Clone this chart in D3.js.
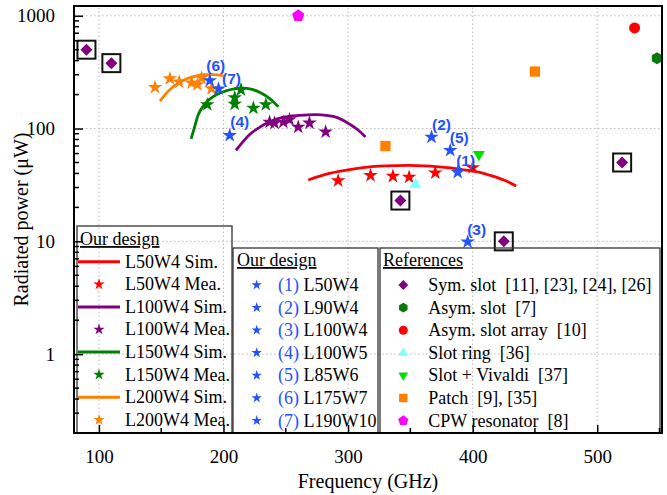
<!DOCTYPE html>
<html>
<head>
<meta charset="utf-8">
<script src="https://cdn.jsdelivr.net/npm/d3@7"></script>
<style>
  body { margin: 0; background: #fff; }
  svg text { font-family: "Liberation Serif", "Times New Roman", serif; white-space: pre; }
</style>
</head>
<body>
<div id="chart"></div>
<script>
// ---- data ----
var freqTicks = [100, 200, 300, 400, 500];
var powerTicks = [1, 10, 100, 1000];

// simulated curves (GHz, uW)
var l50Sim = [[268,35],[285,40],[300,43],[312,45],[325,46.5],[340,47],[355,47],[366,46.5],[380,45],[393,43],[405,41],[414,38.5],[425,35],[435,31]];
var l100Sim = [[210,64],[221,88.5],[228,101],[235,112],[248,126],[261,131],[275,133],[288,128],[295,120],[302,108],[308,97],[314,84]];
var l150Sim = [[174,81],[177,105],[180,135],[184,160],[189,182],[195,201],[202,216],[210,226],[217,228],[223,222],[229,210],[235,192],[240,173],[244,156]];
var l200Sim = [[149,175],[154,205],[160,237],[165,258],[170,275],[177,290],[184,300],[192,300],[200,294]];

// measured points
var l50Mea = [[292,34.5],[318,38.4],[336,37.8],[349,37.1],[370,40.5],[400,45]];
var l100Mea = [[237,114],[241,112],[248,114],[253,120],[260,103],[269,112],[282,93.5]];
var l150Mea = [[187,163],[209,188],[209,165],[214,221],[224,152],[234,163]];
var l200Mea = [[145,232],[157,277],[164.5,259],[174.4,254],[179,245],[182.4,281],[190.4,226]];

var seriesNames = ["L50W4", "L100W4", "L150W4", "L200W4"];
var seriesSim = [l50Sim, l100Sim, l150Sim, l200Sim];
var seriesMea = [l50Mea, l100Mea, l150Mea, l200Mea];

// numbered designs
var numLabels = ["(1)", "(2)", "(3)", "(4)", "(5)", "(6)", "(7)"];
var numNames = ["L50W4", "L90W4", "L100W4", "L100W5", "L85W6", "L175W7", "L190W10"];
var numPoints = [[388,41],[367,84],[396,9.9],[205,87],[382,64],[189,266],[196,225]];

// references
var refNames = ["Sym. slot  [11], [23], [24], [26]", "Asym. slot  [7]", "Asym. slot array  [10]",
                "Slot ring  [36]", "Slot + Vivaldi  [37]", "Patch  [9], [35]", "CPW resonator  [8]"];
var symSlot = [[90,500],[110,380],[342,23],[425,10],[520,50]];
var asymSlot = [[548,420]];
var asymArray = [[530,780]];
var slotRing = [[354,32]];
var slotVivaldi = [[405,59]];
var patch = [[330,70],[450,320]];
var cpwRes = [[260,1000]];
var refData = [symSlot, asymSlot, asymArray, slotRing, slotVivaldi, patch, cpwRes];

// ---- styles ----
var seriesColors = ["#ff0000", "#800080", "#008000", "#ff8000"];
var blue = "#2452ff";
var refColors = ["#800080", "#087a08", "#ff0000", "#80ffff", "#00e000", "#ff8000", "#ff00ff"];

var width = 667, height = 495;
var margin = {top: 6, left: 74, right: 5, bottom: 62};

var svg = d3.select("#chart").append("svg")
    .attr("width", width)
    .attr("height", height);

var xScale = d3.scaleLinear()
    .domain([80, 552])
    .range([margin.left, width - margin.right]);

var yScale = d3.scaleLog()
    .domain([0.2, 1220])
    .range([height - margin.bottom, margin.top]);

var x0 = margin.left, x1 = width - margin.right;
var y0 = height - margin.bottom, y1 = margin.top;

// grid
svg.append("g").selectAll("line.gx")
    .data(freqTicks).enter().append("line")
    .attr("x1", function(d) { return xScale(d); })
    .attr("x2", function(d) { return xScale(d); })
    .attr("y1", y0).attr("y2", y1)
    .attr("stroke", "#bbb").attr("stroke-width", 1).attr("stroke-dasharray", "1.5,2.5");
svg.append("g").selectAll("line.gy")
    .data(powerTicks).enter().append("line")
    .attr("y1", function(d) { return yScale(d); })
    .attr("y2", function(d) { return yScale(d); })
    .attr("x1", x0).attr("x2", x1)
    .attr("stroke", "#bbb").attr("stroke-width", 1).attr("stroke-dasharray", "1.5,2.5");

// shapes
function polyPath(r, n) {
    var pts = [];
    for (var i = 0; i < n; i++) {
        var a = -Math.PI / 2 + i * 2 * Math.PI / n;
        pts.push([r * Math.cos(a), r * Math.sin(a)]);
    }
    return "M" + pts.map(function(p) { return p.join(","); }).join("L") + "Z";
}
var star = function(s) { return d3.symbol().type(d3.symbolStar).size(s)(); };
function refShape(i, scale) {
    scale = scale || 1;
    if (i === 0) return { d: d3.symbol().type(d3.symbolSquare).size(72 * scale * scale)(), rot: 45 };
    if (i === 1) return { d: polyPath(6 * scale, 6), rot: 0 };
    if (i === 2) return { d: d3.symbol().type(d3.symbolCircle).size(95 * scale * scale)(), rot: 0 };
    if (i === 3) return { d: d3.symbol().type(d3.symbolTriangle).size(62 * scale * scale)(), rot: 0 };
    if (i === 4) return { d: d3.symbol().type(d3.symbolTriangle).size(62 * scale * scale)(), rot: 180 };
    if (i === 5) return { d: d3.symbol().type(d3.symbolSquare).size(106 * scale * scale)(), rot: 0 };
    return { d: polyPath(6.5 * scale, 5), rot: 0 };
}

// simulated curves
var line = d3.line()
    .x(function(d) { return xScale(d[0]); })
    .y(function(d) { return yScale(d[1]); })
    .curve(d3.curveCatmullRom);

seriesSim.forEach(function(s, i) {
    svg.append("path").datum(s)
        .attr("d", line)
        .attr("fill", "none")
        .attr("stroke", seriesColors[i])
        .attr("stroke-width", 2.8);
});

// measured stars
seriesMea.forEach(function(s, i) {
    svg.append("g").selectAll("path")
        .data(s).enter().append("path")
        .attr("d", star(66))
        .attr("transform", function(d) { return "translate(" + xScale(d[0]) + "," + yScale(d[1]) + ")"; })
        .attr("fill", seriesColors[i]);
});

// references
refData.forEach(function(s, i) {
    var sh = refShape(i);
    var g = svg.append("g");
    g.selectAll("path")
        .data(s).enter().append("path")
        .attr("d", sh.d)
        .attr("transform", function(d) { return "translate(" + xScale(d[0]) + "," + yScale(d[1]) + ") rotate(" + sh.rot + ")"; })
        .attr("fill", refColors[i]);
    if (i === 0) {
        g.selectAll("rect")
            .data(s).enter().append("rect")
            .attr("x", function(d) { return xScale(d[0]) - 9; })
            .attr("y", function(d) { return yScale(d[1]) - 9; })
            .attr("width", 18).attr("height", 18)
            .attr("fill", "none").attr("stroke", "#111").attr("stroke-width", 2);
    }
});

// numbered designs
var labelOffset = [[8,-12],[10,-13],[9,-12],[10,-14],[9,-13],[6,-15],[13,-10]];
svg.append("g").selectAll("path")
    .data(numPoints).enter().append("path")
    .attr("d", star(66))
    .attr("transform", function(d) { return "translate(" + xScale(d[0]) + "," + yScale(d[1]) + ")"; })
    .attr("fill", blue);
svg.append("g").selectAll("text")
    .data(numPoints).enter().append("text")
    .attr("x", function(d, i) { return xScale(d[0]) + labelOffset[i][0]; })
    .attr("y", function(d, i) { return yScale(d[1]) + labelOffset[i][1]; })
    .attr("dy", "0.35em")
    .attr("text-anchor", "middle")
    .style("font-family", "'Liberation Sans', Arial, sans-serif")
    .style("font-weight", "bold")
    .style("font-size", "15.5px")
    .attr("fill", blue)
    .text(function(d, i) { return numLabels[i]; });

// ---- legends ----
var fs = "18px";
var step = 22.6;

// box 1
svg.append("rect").attr("x", 77).attr("y", 226).attr("width", 155).attr("height", y0 - 226)
    .attr("fill", "none").attr("stroke", "#333").attr("stroke-width", 1.3);
svg.append("text").attr("x", 80).attr("y", 245).style("font-size", fs)
    .attr("text-decoration", "underline").text("Our design");
seriesNames.forEach(function(n, i) {
    var ys = 261.7 + step * 2 * i, ym = ys + step;
    svg.append("line").attr("x1", 78).attr("x2", 120).attr("y1", ys).attr("y2", ys)
        .attr("stroke", seriesColors[i]).attr("stroke-width", 3);
    svg.append("text").attr("x", 125).attr("y", ys).attr("dy", "0.33em").style("font-size", fs).text(n + " Sim.");
    svg.append("path").attr("d", star(40)).attr("transform", "translate(99," + ym + ")").attr("fill", seriesColors[i]);
    svg.append("text").attr("x", 125).attr("y", ym).attr("dy", "0.33em").style("font-size", fs).text(n + " Mea.");
});

// box 2
svg.append("rect").attr("x", 233).attr("y", 248).attr("width", 145).attr("height", y0 - 248)
    .attr("fill", "none").attr("stroke", "#333").attr("stroke-width", 1.3);
svg.append("text").attr("x", 237).attr("y", 266).style("font-size", fs)
    .attr("text-decoration", "underline").text("Our design");
numNames.forEach(function(n, i) {
    var yy = 285 + step * i;
    svg.append("path").attr("d", star(34)).attr("transform", "translate(256.7," + yy + ")").attr("fill", blue);
    var t = svg.append("text").attr("x", 278).attr("y", yy).attr("dy", "0.33em").style("font-size", fs);
    t.append("tspan").attr("fill", blue).text(numLabels[i]);
    t.append("tspan").text(" " + n);
});

// box 3
svg.append("rect").attr("x", 380).attr("y", 248).attr("width", 280).attr("height", y0 - 248)
    .attr("fill", "none").attr("stroke", "#333").attr("stroke-width", 1.3);
svg.append("text").attr("x", 383).attr("y", 266).style("font-size", fs)
    .attr("text-decoration", "underline").text("References");
refNames.forEach(function(n, i) {
    var yy = 285 + step * i;
    var sh = refShape(i, 0.82);
    svg.append("path").attr("d", sh.d)
        .attr("transform", "translate(403.3," + yy + ") rotate(" + sh.rot + ")")
        .attr("fill", refColors[i]);
    svg.append("text").attr("x", 428.3).attr("y", yy).attr("dy", "0.33em").style("font-size", fs).text(n);
});

// ---- axes ----
var minorX = [150, 250, 350, 450, 550];
var minorY = [];
[0.1, 1, 10, 100, 1000].forEach(function(dec) {
    for (var k = 2; k <= 9; k++) {
        var v = dec * k;
        if (v > 0.2 && v < 1220) minorY.push(v);
    }
});

var xAxis = svg.append("g")
    .attr("transform", "translate(0," + y0 + ")")
    .call(d3.axisBottom(xScale).tickValues(freqTicks).tickSizeInner(-8).tickSizeOuter(0).tickPadding(17).tickFormat(d3.format("d")));
xAxis.append("g").selectAll("line").data(minorX).enter().append("line")
    .attr("x1", function(d) { return xScale(d); }).attr("x2", function(d) { return xScale(d); })
    .attr("y1", 0).attr("y2", -5).attr("stroke", "#000").attr("stroke-width", 1.5);

var yAxis = svg.append("g")
    .attr("transform", "translate(" + x0 + ",0)")
    .call(d3.axisLeft(yScale).tickValues(powerTicks).tickSizeInner(-9).tickSizeOuter(0).tickPadding(19).tickFormat(d3.format("d")));
yAxis.append("g").selectAll("line").data(minorY).enter().append("line")
    .attr("y1", function(d) { return yScale(d); }).attr("y2", function(d) { return yScale(d); })
    .attr("x1", 0).attr("x2", 5).attr("stroke", "#000").attr("stroke-width", 1.5);

[xAxis, yAxis].forEach(function(a) {
    a.select(".domain").remove();
    a.selectAll(".tick line").attr("stroke-width", 1.5);
    a.selectAll("text").style("font-family", "'Liberation Serif', 'Times New Roman', serif")
        .style("font-size", "19px").attr("fill", "#000");
});

// frame
svg.append("rect").attr("x", x0).attr("y", y1).attr("width", x1 - x0).attr("height", y0 - y1)
    .attr("fill", "none").attr("stroke", "#000").attr("stroke-width", 2);

// axis labels
svg.append("text")
    .attr("x", (x0 + x1) / 2).attr("y", 488)
    .attr("text-anchor", "middle").style("font-size", "20px")
    .text("Frequency (GHz)");
svg.append("text")
    .attr("transform", "rotate(-90)")
    .attr("x", -(y0 + y1) / 2).attr("y", 28)
    .attr("text-anchor", "middle").style("font-size", "20px")
    .text("Radiated power (\u03bcW)");
</script>
</body>
</html>
